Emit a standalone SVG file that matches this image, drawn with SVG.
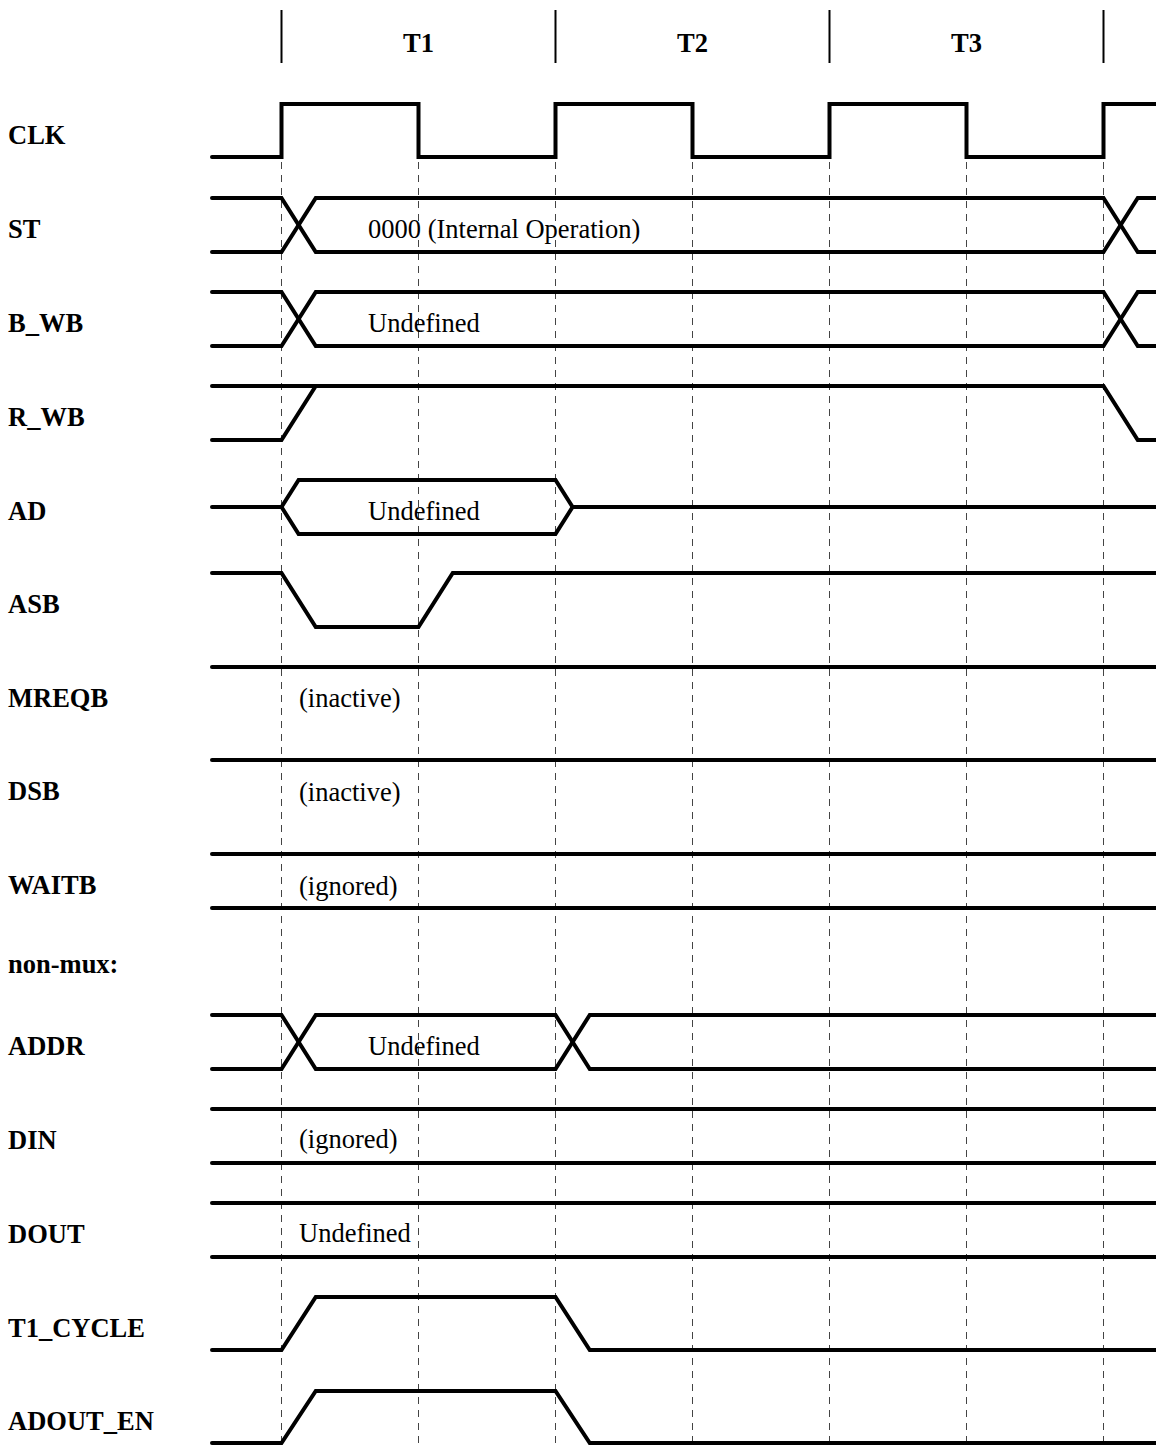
<svg xmlns="http://www.w3.org/2000/svg" width="1156" height="1445" viewBox="0 0 1156 1445">
<style>
.sig{fill:none;stroke:#000;stroke-width:4;stroke-linecap:round;stroke-linejoin:miter}
.grid{stroke:#444;stroke-width:1;stroke-dasharray:7 6;fill:none}
.mark{stroke:#000;stroke-width:2}
.lbl{font-family:"Liberation Serif","Times New Roman",serif;font-weight:bold;font-size:26.5px;fill:#000}
.txt{font-family:"Liberation Serif","Times New Roman",serif;font-size:26.5px;fill:#000}
</style>
<rect width="1156" height="1445" fill="#fff"/>
<g id="grid">
<line class="grid" x1="281.5" y1="162" x2="281.5" y2="1445"/>
<line class="grid" x1="418.5" y1="162" x2="418.5" y2="1445"/>
<line class="grid" x1="555.5" y1="162" x2="555.5" y2="1445"/>
<line class="grid" x1="692.5" y1="162" x2="692.5" y2="1445"/>
<line class="grid" x1="829.5" y1="162" x2="829.5" y2="1445"/>
<line class="grid" x1="966.5" y1="162" x2="966.5" y2="1445"/>
<line class="grid" x1="1103.5" y1="162" x2="1103.5" y2="1445"/>
</g>
<g id="header">
<line class="mark" x1="281.5" y1="10" x2="281.5" y2="63"/>
<line class="mark" x1="555.5" y1="10" x2="555.5" y2="63"/>
<line class="mark" x1="829.5" y1="10" x2="829.5" y2="63"/>
<line class="mark" x1="1103.5" y1="10" x2="1103.5" y2="63"/>
<text class="lbl" x="418.5" y="52" text-anchor="middle">T1</text>
<text class="lbl" x="692.5" y="52" text-anchor="middle">T2</text>
<text class="lbl" x="966.5" y="52" text-anchor="middle">T3</text>
</g>
<g id="CLK">
<text class="lbl" x="8" y="144">CLK</text>
<path class="sig" d="M212,157 H281.5 V104 H418.5 V157 H555.5 V104 H692.5 V157 H829.5 V104 H966.5 V157 H1103.5 V104 H1160"/>
</g>
<g id="ST">
<text class="lbl" x="8" y="238">ST</text>
<path class="sig" d="M212,198 H281.5 L315.75,252 H1103.5 L1137.75,198 H1160"/>
<path class="sig" d="M212,252 H281.5 L315.75,198 H1103.5 L1137.75,252 H1160"/>
<text class="txt" x="368" y="238">0000 (Internal Operation)</text>
</g>
<g id="B_WB">
<text class="lbl" x="8" y="332">B_WB</text>
<path class="sig" d="M212,292 H281.5 L315.75,346 H1103.5 L1137.75,292 H1160"/>
<path class="sig" d="M212,346 H281.5 L315.75,292 H1103.5 L1137.75,346 H1160"/>
<text class="txt" x="368" y="332">Undefined</text>
</g>
<g id="R_WB">
<text class="lbl" x="8" y="426">R_WB</text>
<path class="sig" d="M212,386 H1103.5 L1137.75,440 H1160"/>
<path class="sig" d="M212,440 H281.5 L315.75,386"/>
</g>
<g id="AD">
<text class="lbl" x="8" y="520">AD</text>
<path class="sig" d="M212,507 H281.5 L298.6,480 H555.5 L572.6,507 H1160"/>
<path class="sig" d="M281.5,507 L298.6,534 H555.5 L572.6,507"/>
<text class="txt" x="368" y="520">Undefined</text>
</g>
<g id="ASB">
<text class="lbl" x="8" y="613">ASB</text>
<path class="sig" d="M212,573 H281.5 L315.75,627 H418.5 L452.75,573 H1160"/>
</g>
<g id="MREQB">
<text class="lbl" x="8" y="707">MREQB</text>
<path class="sig" d="M212,667 H1160"/>
<text class="txt" x="299" y="707">(inactive)</text>
</g>
<g id="DSB">
<text class="lbl" x="8" y="800">DSB</text>
<path class="sig" d="M212,760 H1160"/>
<text class="txt" x="299" y="801">(inactive)</text>
</g>
<g id="WAITB">
<text class="lbl" x="8" y="894">WAITB</text>
<path class="sig" d="M212,854 H1160"/>
<path class="sig" d="M212,908 H1160"/>
<text class="txt" x="299" y="895">(ignored)</text>
</g>
<g id="non-mux">
<text class="lbl" x="8" y="973">non-mux:</text>
</g>
<g id="ADDR">
<text class="lbl" x="8" y="1055">ADDR</text>
<path class="sig" d="M212,1015 H281.5 L315.75,1069 H555.5 L589.75,1015 H1160"/>
<path class="sig" d="M212,1069 H281.5 L315.75,1015 H555.5 L589.75,1069 H1160"/>
<text class="txt" x="368" y="1055">Undefined</text>
</g>
<g id="DIN">
<text class="lbl" x="8" y="1149">DIN</text>
<path class="sig" d="M212,1109 H1160"/>
<path class="sig" d="M212,1163 H1160"/>
<text class="txt" x="299" y="1148">(ignored)</text>
</g>
<g id="DOUT">
<text class="lbl" x="8" y="1243">DOUT</text>
<path class="sig" d="M212,1203 H1160"/>
<path class="sig" d="M212,1257 H1160"/>
<text class="txt" x="299" y="1242">Undefined</text>
</g>
<g id="T1_CYCLE">
<text class="lbl" x="8" y="1337">T1_CYCLE</text>
<path class="sig" d="M212,1350 H281.5 L315.75,1297 H555.5 L589.75,1350 H1160"/>
</g>
<g id="ADOUT_EN">
<text class="lbl" x="8" y="1430">ADOUT_EN</text>
<path class="sig" d="M212,1443 H281.5 L315.75,1391 H555.5 L589.75,1443 H1160"/>
</g>
</svg>
